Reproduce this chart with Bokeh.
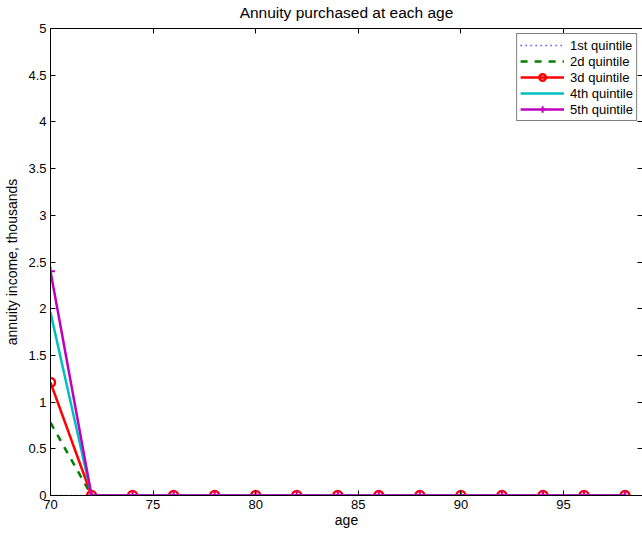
from bokeh.plotting import figure
from bokeh.models import LinearAxis, Legend, LegendItem, FixedTicker, Range1d
from bokeh.embed import file_html
from bokeh.resources import INLINE

# ---- data ----
ages = [70, 72, 74, 76, 78, 80, 82, 84, 86, 88, 90, 92, 94, 96, 98]
q1 = [0.0, 0, 0, 0, 0, 0, 0, 0, 0, 0, 0, 0, 0, 0, 0]
q2 = [0.78, 0, 0, 0, 0, 0, 0, 0, 0, 0, 0, 0, 0, 0, 0]
q3 = [1.21, 0, 0, 0, 0, 0, 0, 0, 0, 0, 0, 0, 0, 0, 0]
q4 = [1.96, 0, 0, 0, 0, 0, 0, 0, 0, 0, 0, 0, 0, 0, 0]
q5 = [2.40, 0, 0, 0, 0, 0, 0, 0, 0, 0, 0, 0, 0, 0, 0]
series_labels = ["1st quintile", "2d quintile", "3d quintile", "4th quintile", "5th quintile"]
x_ticks = [70, 75, 80, 85, 90, 95, 100]
x_tick_labels = ["70", "75", "80", "85", "90", "95", "100"]
y_ticks = [0, 0.5, 1, 1.5, 2, 2.5, 3, 3.5, 4, 4.5, 5]
y_tick_labels = ["0", "0.5", "1", "1.5", "2", "2.5", "3", "3.5", "4", "4.5", "5"]
title_text = "Annuity purchased at each age"

FONT = "Liberation Sans"

p = figure(width=642, height=536, x_range=Range1d(70, 98.85), y_range=Range1d(0, 5),
           output_backend="svg", toolbar_location=None,
           x_axis_location=None, y_axis_location=None,
           min_border_left=50, min_border_right=0, min_border_top=28, min_border_bottom=41)
p.outline_line_color = None
p.xgrid.visible = False
p.ygrid.visible = False
p.background_fill_color = "white"
p.border_fill_color = "white"
p.title.text = ""


def style_axis(ax, ticks, labels, show_labels=True, line=True):
    ax.ticker = FixedTicker(ticks=ticks)
    ax.major_tick_in = 5
    ax.major_tick_out = 0
    ax.minor_tick_line_color = None
    ax.major_tick_line_color = "black"
    ax.axis_line_color = "black" if line else None
    ax.major_label_text_font = FONT
    if show_labels:
        ax.major_label_overrides = {t: l for t, l in zip(ticks, labels)}
        ax.major_label_text_font_size = "13px"
        ax.major_label_text_color = "black"
    else:
        ax.major_label_overrides = {t: "" for t in ticks}
        ax.major_label_text_font_size = "1px"
        ax.major_label_text_color = None
        ax.major_label_standoff = 0
    ax.axis_label_text_font = FONT
    ax.axis_label_text_font_size = "14px"
    ax.axis_label_text_font_style = "normal"
    ax.axis_label_text_color = "black"


xb = LinearAxis(axis_label="age")
style_axis(xb, x_ticks, x_tick_labels)
xb.major_label_standoff = 4
xb.axis_label_standoff = 0
p.add_layout(xb, "below")

yl = LinearAxis(axis_label="annuity income, thousands")
style_axis(yl, y_ticks, y_tick_labels)
yl.major_label_standoff = 4
yl.axis_label_standoff = 5
p.add_layout(yl, "left")

# top axis: ticks only, carries the chart title as its label
xt = LinearAxis(axis_label=title_text)
style_axis(xt, x_ticks, x_tick_labels, show_labels=False)
xt.axis_label_text_font_size = "15.5px"
xt.axis_label_standoff = 8
p.add_layout(xt, "above")

yr = LinearAxis()
style_axis(yr, y_ticks, y_tick_labels, show_labels=False, line=False)
p.add_layout(yr, "right")

r1 = p.line(ages, q1, line_color="#0000FF", line_width=1.5, line_dash="1 4")
r2 = p.line(ages, q2, line_color="#008000", line_width=2.5, line_dash="7 7")
r3 = p.line(ages, q3, line_color="#FF0000", line_width=2.5)
r3m = p.scatter(ages, q3, marker="circle", size=9, fill_color=None,
                line_color="#FF0000", line_width=2.5)
r4 = p.line(ages, q4, line_color="#00BFBF", line_width=2.5)
r5 = p.line(ages, q5, line_color="#BF00BF", line_width=2.5)
r5m = p.scatter(ages, q5, marker="cross", size=9, line_color="#BF00BF", line_width=2)

legend = Legend(items=[
    LegendItem(label=series_labels[0], renderers=[r1]),
    LegendItem(label=series_labels[1], renderers=[r2]),
    LegendItem(label=series_labels[2], renderers=[r3, r3m]),
    LegendItem(label=series_labels[3], renderers=[r4]),
    LegendItem(label=series_labels[4], renderers=[r5, r5m]),
], location="top_right")
legend.border_line_color = "black"
legend.border_line_width = 1
legend.background_fill_color = "white"
legend.background_fill_alpha = 1
legend.label_text_font = FONT
legend.label_text_font_size = "13px"
legend.label_text_color = "black"
legend.glyph_width = 44
legend.glyph_height = 16
legend.label_height = 16
legend.spacing = 0
legend.padding = 3
legend.margin = 5
legend.label_standoff = 6
p.add_layout(legend, "center")

open("out.html", "w").write(file_html(p, INLINE))
